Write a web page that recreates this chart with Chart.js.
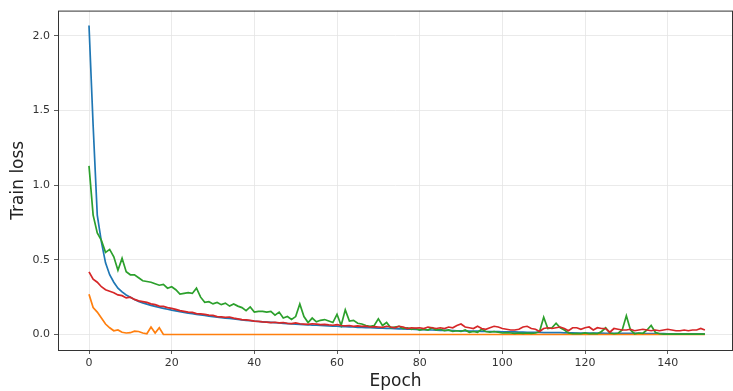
<!DOCTYPE html>
<html>
<head>
<meta charset="utf-8">
<script src="https://cdn.jsdelivr.net/npm/chart.js@4.4.1/dist/chart.umd.min.js"></script>
<style>
  html, body { margin: 0; padding: 0; background: #fff; }
  #wrap { width: 733px; height: 391px; }
</style>
</head>
<body>
<div id="wrap"><canvas id="lossChart" width="733" height="391"></canvas></div>
<script>
// training loss per epoch, one array per run
const blueLoss = [
    2.07, 1.40, 0.80, 0.62, 0.48, 0.40, 0.35, 0.31, 0.285, 0.265,
    0.25, 0.235, 0.222, 0.212, 0.203, 0.195, 0.188, 0.181, 0.175, 0.169,
    0.163, 0.158, 0.153, 0.148, 0.143, 0.139, 0.135, 0.131, 0.127, 0.123,
    0.119, 0.116, 0.113, 0.110, 0.107, 0.104, 0.101, 0.098, 0.095, 0.092,
    0.089, 0.087, 0.085, 0.083, 0.081, 0.079, 0.077, 0.075, 0.073, 0.071,
    0.069, 0.068, 0.066, 0.065, 0.063, 0.062, 0.060, 0.059, 0.057, 0.056,
    0.055, 0.053, 0.052, 0.051, 0.050, 0.048, 0.047, 0.046, 0.045, 0.044,
    0.043, 0.042, 0.041, 0.040, 0.039, 0.038, 0.037, 0.036, 0.035, 0.034,
    0.033, 0.032, 0.031, 0.030, 0.029, 0.028, 0.028, 0.027, 0.026, 0.025,
    0.024, 0.024, 0.023, 0.022, 0.022, 0.021, 0.020, 0.020, 0.019, 0.019,
    0.018, 0.018, 0.017, 0.017, 0.016, 0.016, 0.015, 0.015, 0.014, 0.014,
    0.013, 0.013, 0.013, 0.012, 0.012, 0.011, 0.011, 0.011, 0.010, 0.010,
    0.010, 0.009, 0.009, 0.009, 0.009, 0.008, 0.008, 0.008, 0.008, 0.007,
    0.007, 0.007, 0.007, 0.007, 0.006, 0.006, 0.006, 0.006, 0.006, 0.006,
    0.005, 0.005, 0.005, 0.005, 0.005, 0.005, 0.005, 0.004, 0.004, 0.004
];
const orangeLoss = [
    0.27, 0.18, 0.15, 0.11, 0.07, 0.045, 0.025, 0.03, 0.015, 0.01,
    0.012, 0.022, 0.02, 0.01, 0.005, 0.05, 0.01, 0.045, 0, 0,
    0, 0, 0, 0, 0, 0, 0, 0, 0, 0,
    0, 0, 0, 0, 0, 0, 0, 0, 0, 0,
    0, 0, 0, 0, 0, 0, 0, 0, 0, 0,
    0, 0, 0, 0, 0, 0, 0, 0, 0, 0,
    0, 0, 0, 0, 0, 0, 0, 0, 0, 0,
    0, 0, 0, 0, 0, 0, 0, 0, 0, 0,
    0, 0, 0, 0, 0, 0, 0, 0, 0, 0,
    0, 0, 0, 0, 0, 0, 0, 0, 0, 0,
    0, 0, 0, 0, 0, 0, 0, 0, 0, 0,
    0, 0, 0, 0, 0, 0, 0, 0, 0, 0,
    0, 0, 0, 0, 0, 0, 0, 0, 0, 0,
    0, 0, 0, 0, 0, 0, 0, 0, 0, 0,
    0, 0, 0, 0, 0, 0, 0, 0, 0, 0
];
const greenLoss = [
    1.13, 0.80, 0.68, 0.63, 0.55, 0.57, 0.52, 0.43, 0.51, 0.42,
    0.40, 0.40, 0.38, 0.36, 0.355, 0.35, 0.34, 0.33, 0.335, 0.31,
    0.32, 0.30, 0.27, 0.275, 0.28, 0.275, 0.31, 0.25, 0.215, 0.22,
    0.205, 0.215, 0.20, 0.21, 0.19, 0.205, 0.19, 0.18, 0.16, 0.185,
    0.15, 0.155, 0.155, 0.15, 0.155, 0.13, 0.15, 0.11, 0.12, 0.10,
    0.12, 0.205, 0.12, 0.08, 0.11, 0.085, 0.095, 0.10, 0.09, 0.08,
    0.135, 0.06, 0.165, 0.09, 0.095, 0.075, 0.07, 0.06, 0.055, 0.06,
    0.105, 0.06, 0.08, 0.045, 0.05, 0.055, 0.04, 0.045, 0.035, 0.04,
    0.03, 0.035, 0.03, 0.045, 0.03, 0.035, 0.025, 0.03, 0.02, 0.025,
    0.02, 0.03, 0.015, 0.02, 0.015, 0.035, 0.02, 0.015, 0.02, 0.015,
    0.01, 0.012, 0.01, 0.008, 0.01, 0.008, 0.01, 0.008, 0.01, 0.02,
    0.115, 0.04, 0.045, 0.075, 0.045, 0.03, 0.01, 0.005, 0.008, 0.005,
    0.01, 0.005, 0.008, 0.005, 0.02, 0.045, 0.01, 0.005, 0.008, 0.03,
    0.125, 0.03, 0.005, 0.01, 0.008, 0.03, 0.06, 0.015, 0.005, 0.003,
    0.003, 0.002, 0.002, 0.002, 0.002, 0.002, 0.002, 0.002, 0.002, 0.002
];
const redLoss = [
    0.42, 0.37, 0.35, 0.32, 0.30, 0.29, 0.28, 0.265, 0.26, 0.245,
    0.25, 0.235, 0.225, 0.22, 0.215, 0.205, 0.20, 0.19, 0.188, 0.18,
    0.175, 0.168, 0.16, 0.155, 0.15, 0.148, 0.14, 0.138, 0.135, 0.13,
    0.128, 0.12, 0.118, 0.115, 0.117, 0.11, 0.105, 0.10, 0.098, 0.095,
    0.09, 0.088, 0.085, 0.083, 0.08, 0.082, 0.078, 0.08, 0.075, 0.073,
    0.078, 0.072, 0.07, 0.068, 0.072, 0.07, 0.066, 0.068, 0.064, 0.062,
    0.066, 0.06, 0.058, 0.06, 0.055, 0.058, 0.054, 0.056, 0.05, 0.052,
    0.05, 0.048, 0.055, 0.05, 0.045, 0.055, 0.05, 0.04, 0.045, 0.042,
    0.045, 0.04, 0.05, 0.045, 0.04, 0.045, 0.04, 0.05, 0.045, 0.06,
    0.07, 0.05, 0.045, 0.04, 0.055, 0.04, 0.035, 0.045, 0.055, 0.05,
    0.04, 0.035, 0.03, 0.03, 0.035, 0.05, 0.055, 0.04, 0.035, 0.02,
    0.04, 0.045, 0.04, 0.045, 0.05, 0.04, 0.025, 0.045, 0.045, 0.035,
    0.045, 0.05, 0.03, 0.045, 0.04, 0.04, 0.015, 0.04, 0.035, 0.03,
    0.03, 0.035, 0.025, 0.03, 0.035, 0.03, 0.025, 0.03, 0.025, 0.03,
    0.035, 0.03, 0.025, 0.025, 0.03, 0.025, 0.03, 0.03, 0.04, 0.03
];

const xTicks = [0, 20, 40, 60, 80, 100, 120, 140];
const yTicks = [0, 0.5, 1.0, 1.5, 2.0];

const FONT = "'DejaVu Sans', 'Liberation Sans', sans-serif";

function toPoints(values) {
    return values.map((v, epoch) => ({ x: epoch, y: v }));
}

// matplotlib-style closed frame around the plot area
const frameBox = {
    id: 'frameBox',
    afterDraw(chart) {
        const { ctx, chartArea: a } = chart;
        ctx.save();
        ctx.strokeStyle = '#333';
        ctx.lineWidth = 1;
        ctx.strokeRect(a.left + 0.5, a.top + 0.5, a.right - a.left - 1, a.bottom - a.top);
        ctx.restore();
    }
};

const series = [
    { data: blueLoss, color: '#1f77b4', order: 3 },
    { data: orangeLoss, color: '#ff7f0e', order: 2 },
    { data: greenLoss, color: '#2ca02c', order: 1 },
    { data: redLoss, color: '#d62728', order: 0 }
];

new Chart(document.getElementById('lossChart'), {
    type: 'line',
    data: {
        datasets: series.map(s => ({
            data: toPoints(s.data),
            borderColor: s.color,
            backgroundColor: s.color,
            borderWidth: 1.7,
            pointRadius: 0,
            tension: 0,
            fill: false,
            order: s.order
        }))
    },
    options: {
        responsive: false,
        animation: false,
        layout: { padding: { top: 9, right: 0, left: 0, bottom: 0 } },
        plugins: {
            legend: { display: false },
            tooltip: { enabled: false }
        },
        scales: {
            x: {
                type: 'linear',
                min: -7.5,
                max: 155.8,
                afterBuildTicks: scale => { scale.ticks = xTicks.map(v => ({ value: v })); },
                afterFit: scale => { scale.height = 41; },
                grid: { color: '#e4e4e4', lineWidth: 0.8, tickColor: '#333', tickLength: 4 },
                border: { display: false },
                ticks: {
                    padding: 3,
                    color: '#333',
                    font: { family: FONT, size: 11 },
                    maxRotation: 0,
                    callback: v => String(v)
                },
                title: {
                    display: true,
                    text: 'Epoch',
                    color: '#222',
                    font: { family: FONT, size: 17 },
                    padding: { top: 0, bottom: -1 }
                }
            },
            y: {
                type: 'linear',
                min: -0.104,
                max: 2.17,
                afterBuildTicks: scale => { scale.ticks = yTicks.map(v => ({ value: v })); },
                afterFit: scale => { scale.width = 58; },
                grid: { color: '#e4e4e4', lineWidth: 0.8, tickColor: '#333', tickLength: 4 },
                border: { display: false },
                ticks: {
                    padding: 4,
                    color: '#333',
                    font: { family: FONT, size: 11 },
                    callback: v => v.toFixed(1)
                },
                title: {
                    display: true,
                    text: 'Train loss',
                    color: '#222',
                    font: { family: FONT, size: 17 },
                    padding: { top: 8, bottom: 0 }
                }
            }
        }
    },
    plugins: [frameBox]
});
</script>
</body>
</html>
